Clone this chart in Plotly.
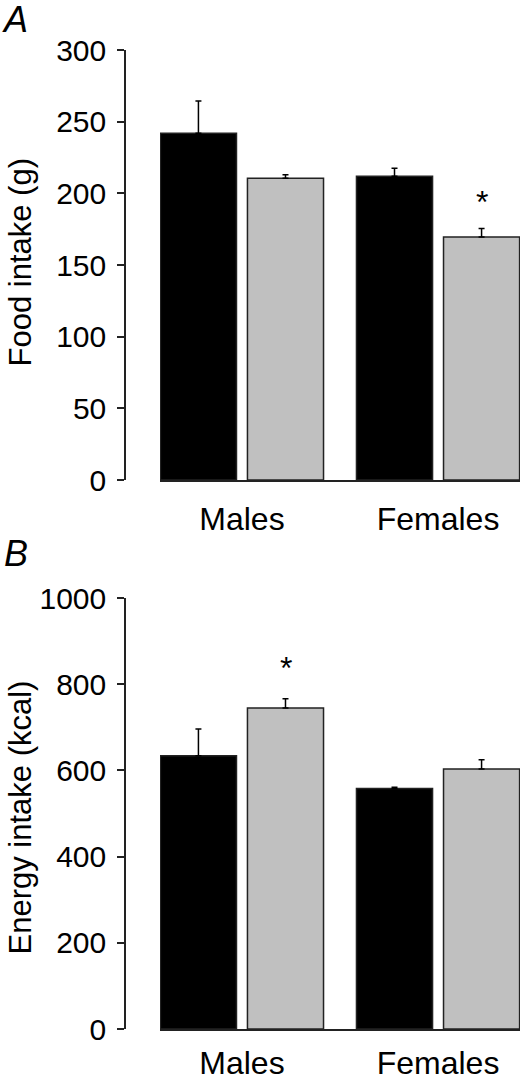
import plotly.graph_objects as go

categories = ["Males", "Females"]
food_black = [242, 212]
food_black_err = [22.5, 5.5]
food_gray = [210.5, 169.5]
food_gray_err = [2.5, 6.0]
food_sig = [None, 194]

energy_black = [634, 558]
energy_black_err = [62, 3]
energy_gray = [745, 603]
energy_gray_err = [21, 22]
energy_sig = [837, None]

food_ticks = [0, 50, 100, 150, 200, 250, 300]
energy_ticks = [0, 200, 400, 600, 800, 1000]

W, H = 531, 1080
FONT = "Liberation Sans, Arial, sans-serif"

def px(x):
    return x / W

def py(y):
    return 1 - y / H

fig = go.Figure()

def add_panel(xa, ya, black, black_err, gray, gray_err):
    fig.add_trace(go.Bar(
        x=categories, y=black, xaxis=xa, yaxis=ya,
        marker=dict(color="black", line=dict(color="#222", width=1.5)),
        error_y=dict(type="data", array=black_err, arrayminus=[0]*len(black_err), symmetric=False,
                     color="black", thickness=1.5, width=3),
        showlegend=False))
    fig.add_trace(go.Bar(
        x=categories, y=gray, xaxis=xa, yaxis=ya,
        marker=dict(color="#c0c0c0", line=dict(color="#222", width=1.5)),
        error_y=dict(type="data", array=gray_err, arrayminus=[0]*len(gray_err), symmetric=False,
                     color="black", thickness=1.5, width=3),
        showlegend=False))

add_panel("x", "y", food_black, food_black_err, food_gray, food_gray_err)
add_panel("x2", "y2", energy_black, energy_black_err, energy_gray, energy_gray_err)

xcommon = dict(type="category", range=[-0.418, 1.418], showline=True, linecolor="#222", linewidth=1.5,
               ticks="", showgrid=False, zeroline=False, automargin=False,
               tickfont=dict(family=FONT, size=32, color="black"))
ycommon = dict(showline=True, linecolor="#222", linewidth=1.5, ticks="outside", ticklen=7,
               tickwidth=1.5, tickcolor="#222", showgrid=False, zeroline=False, automargin=False,
               ticklabelstandoff=5,
               tickfont=dict(family=FONT, size=30, color="black"), anchor="free",
               position=px(125))

fig.update_layout(
    width=W, height=H, margin=dict(l=0, r=0, t=0, b=0, autoexpand=False),
    paper_bgcolor="white", plot_bgcolor="white",
    barmode="group", bargap=0.112, bargroupgap=0.126,
    xaxis=dict(domain=[px(160), px(520)], anchor="y", ticklabelstandoff=10, **xcommon),
    yaxis=dict(domain=[py(480), py(50)], range=[0, 300], tickvals=food_ticks, **ycommon),
    xaxis2=dict(domain=[px(160), px(520)], anchor="y2", ticklabelstandoff=5, **xcommon),
    yaxis2=dict(domain=[py(1029), py(598)], range=[0, 1000], tickvals=energy_ticks, **ycommon),
)

ann = []
for i, v in enumerate(food_sig):
    if v is not None:
        ann.append(dict(x=i, y=v, xref="x", yref="y", text="*", showarrow=False,
                        xshift=44, font=dict(family=FONT, size=32, color="black")))
for i, v in enumerate(energy_sig):
    if v is not None:
        ann.append(dict(x=i, y=v, xref="x2", yref="y2", text="*", showarrow=False,
                        xshift=44, font=dict(family=FONT, size=32, color="black")))

ann.append(dict(x=0, y=py(262), xref="paper", yref="paper", text="Food intake (g)",
                textangle=-90, showarrow=False, xanchor="left", yanchor="middle",
                font=dict(family=FONT, size=31, color="black")))
ann.append(dict(x=0, y=py(818), xref="paper", yref="paper", text="Energy intake (kcal)",
                textangle=-90, showarrow=False, xanchor="left", yanchor="middle",
                font=dict(family=FONT, size=31, color="black")))
ann.append(dict(x=px(0), y=py(20), xref="paper", yref="paper", text="<i>A</i>",
                showarrow=False, xanchor="left", yanchor="middle",
                font=dict(family=FONT, size=36, color="black")))
ann.append(dict(x=px(2), y=py(553), xref="paper", yref="paper", text="<i>B</i>",
                showarrow=False, xanchor="left", yanchor="middle",
                font=dict(family=FONT, size=36, color="black")))
fig.update_layout(annotations=ann)

fig.write_html("out.html", config={"displayModeBar": False},
               post_script="document.body.style.margin='0px';document.body.style.overflow='hidden';")
